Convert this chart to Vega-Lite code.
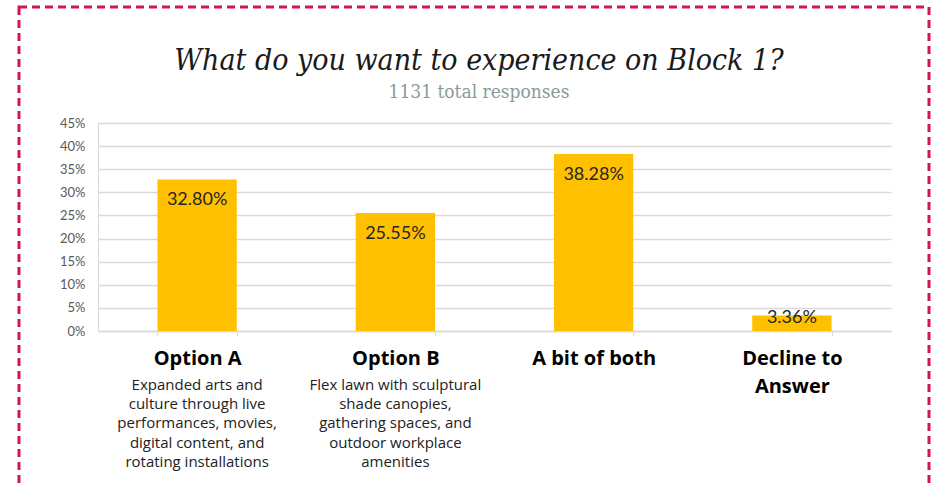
{
  "$schema": "https://vega.github.io/schema/vega-lite/v6.json",
  "autosize": {"type": "none"},
  "padding": {"left": 19, "top": 7, "right": 3, "bottom": 0},
  "width": 910,
  "height": 485,
  "background": "white",
  "config": {
    "view": {"stroke": "#d4145a", "strokeWidth": 3, "strokeDash": [8, 5]}
  },
  "title": {
    "text": "What do you want to experience on Block 1?",
    "subtitle": "1131 total responses",
    "anchor": "middle",
    "frame": "group",
    "offset": -95,
    "dx": 5,
    "font": "DejaVu Serif Condensed",
    "fontSize": 30,
    "fontStyle": "italic",
    "fontWeight": "normal",
    "color": "#1a1a1a",
    "subtitleFont": "DejaVu Serif Condensed",
    "subtitleFontSize": 19,
    "subtitleColor": "#8a9a9a",
    "subtitlePadding": 7
  },
  "data": {
    "values": [
      {"cat": "Option A", "value": 0.328, "desc": "Expanded arts and\nculture through live\nperformances, movies,\ndigital content, and\nrotating installations"},
      {"cat": "Option B", "value": 0.2555, "desc": "Flex lawn with sculptural\nshade canopies,\ngathering spaces, and\noutdoor workplace\namenities"},
      {"cat": "A bit of both", "value": 0.3828, "desc": ""},
      {"cat": "Decline to Answer", "value": 0.0336, "desc": ""}
    ]
  },
  "encoding": {
    "x": {
      "field": "cat",
      "type": "nominal",
      "sort": null,
      "scale": {"range": [79, 872], "paddingInner": 0.6, "paddingOuter": 0.3},
      "axis": {
        "orient": "bottom",
        "offset": -161,
        "title": null,
        "labelAngle": 0,
        "labelFont": "Open Sans",
        "labelFontWeight": "bold",
        "labelFontSize": 20,
        "labelColor": "#000000",
        "labelPadding": 12,
        "labelLineHeight": 28,
        "labelLimit": 0,
        "labelOverlap": false,
        "labelExpr": "datum.label == 'Decline to Answer' ? ['Decline to', 'Answer'] : datum.label",
        "domain": true,
        "domainColor": "#d9d9d9",
        "domainWidth": 1.5,
        "ticks": true,
        "tickBand": "extent",
        "tickColor": "#d9d9d9",
        "tickSize": 5,
        "grid": false
      }
    }
  },
  "layer": [
    {
      "mark": {"type": "bar", "color": "#ffc000"},
      "encoding": {
        "y": {
          "field": "value",
          "type": "quantitative",
          "scale": {"domain": [0, 0.45], "range": [324, 116], "nice": false, "zero": true},
          "axis": {
            "values": [0, 0.05, 0.1, 0.15, 0.2, 0.25, 0.3, 0.35, 0.4, 0.45],
            "format": ".0%",
            "offset": -79,
            "title": null,
            "ticks": false,
            "domain": true,
            "domainColor": "#d9d9d9",
            "grid": true,
            "gridColor": "#d9d9d9",
            "gridWidth": 1.5,
            "labelPadding": 13,
            "labelFont": "Lato",
            "labelFontSize": 13,
            "labelColor": "#595959"
          }
        }
      }
    },
    {
      "transform": [{"filter": "datum.value >= 0.1"}],
      "mark": {"type": "text", "baseline": "middle", "dy": 21, "font": "Lato", "fontSize": 18, "color": "#262626"},
      "encoding": {
        "y": {"field": "value", "type": "quantitative"},
        "text": {"field": "value", "type": "quantitative", "format": ".2%"}
      }
    },
    {
      "transform": [{"filter": "datum.value < 0.1"}],
      "mark": {"type": "text", "baseline": "middle", "dy": 3, "font": "Lato", "fontSize": 18, "color": "#262626"},
      "encoding": {
        "y": {"field": "value", "type": "quantitative"},
        "text": {"field": "value", "type": "quantitative", "format": ".2%"}
      }
    },
    {
      "mark": {"type": "text", "baseline": "top", "dy": 47, "lineBreak": "\n", "lineHeight": 19.2, "font": "Open Sans", "fontSize": 15, "color": "#222222"},
      "encoding": {
        "y": {"datum": 0, "type": "quantitative"},
        "text": {"field": "desc", "type": "nominal"}
      }
    }
  ]
}
